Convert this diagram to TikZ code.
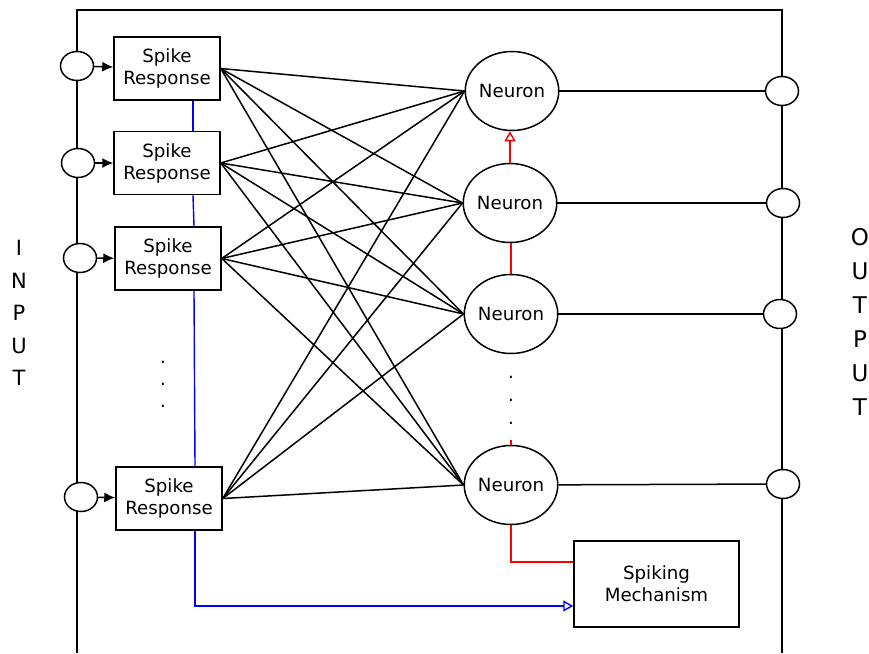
\documentclass[tikz,border=0pt]{standalone}
\usepackage{fontspec}
\setmainfont{DejaVu Sans}
\usetikzlibrary{shapes.geometric,arrows.meta}
\begin{document}
\begin{tikzpicture}[x=1pt,y=-1pt,line width=1.5pt,
  port/.style={draw,fill=white,ellipse,minimum width=33pt,minimum height=29pt,inner sep=0pt},
  resp/.style={draw,rectangle,minimum width=106pt,minimum height=63pt,inner sep=0pt,align=center,
    font=\fontsize{18.2}{22}\selectfont},
  neuron/.style={draw,ellipse,minimum width=89pt,minimum height=79pt,inner sep=0pt,
    font=\fontsize{18.2}{22}\selectfont},
  syn/.style={line width=1.5pt},
  feed/.style={-{Latex[length=11pt,width=10pt]}},
  bluewire/.style={blue,line width=1.4pt},
  redwire/.style={red,line width=1.4pt},
  opentip/.style={-{Triangle[open,length=10pt,width=11pt]}},
  vdots/.style={font=\fontsize{18.2}{22}\selectfont},
  side/.style={inner sep=0pt,align=center}]
\useasboundingbox (0,0) rectangle (869,653);
\path[fill=white] (0,0) rectangle (869,653);

% outer frame, open at the bottom
\draw (77,653) -- (77,10) -- (782,10) -- (782,653);

% input ports
\node[port] (i1) at (77,66) {};
\node[port] (i2) at (78,163) {};
\node[port] (i3) at (80,258) {};
\node[port] (i4) at (81,497) {};

% spike response blocks
\node[resp] (r1) at (167,68.5) {Spike\\Response};
\node[resp] (r2) at (167,163) {Spike\\Response};
\node[resp] (r3) at (168,258.5) {Spike\\Response};
\node[resp] (r4) at (169,498.5) {Spike\\Response};

% neurons
\node[neuron] (n1) at (512,91) {Neuron};
\node[neuron] (n2) at (510,203) {Neuron};
\node[neuron] (n3) at (511,314) {Neuron};
\node[neuron] (n4) at (511,485) {Neuron};

% output ports
\node[port] (o1) at (782,91) {};
\node[port] (o2) at (783,203) {};
\node[port] (o3) at (780,314) {};
\node[port] (o4) at (783,484) {};

% spiking mechanism
\node[draw,rectangle,minimum width=165pt,minimum height=86pt,inner sep=0pt,align=center,
  font=\fontsize{18.2}{22}\selectfont] (sm) at (656.5,584) {Spiking\\Mechanism};

% inputs into response blocks
\foreach \k in {1,2,3,4} \draw[feed] (i\k) -- (r\k);

% full connectivity from responses to neurons
\foreach \a in {1,2,3,4}
  \foreach \b in {1,2,3,4}
    \draw[syn] (r\a.east) -- (n\b.west);

% neuron outputs
\foreach \k in {1,2,3,4} \draw (n\k) -- (o\k);

% blue chain through the response blocks
\coordinate (bc) at (195,606);
\draw[bluewire] (r1.south -| 193,0) -- (r2.north -| 193,0);
\draw[bluewire] (r2.south -| 193,0) -- (r3.north -| 194,0);
\draw[bluewire] (r3.south -| 194,0) -- (r4.north -| 195,0);
\draw[bluewire,opentip] (r4.south -| bc) -- (bc) -- (bc -| sm.west);

% red chain through the neurons
\coordinate (rt) at (511,440);
\coordinate (rc) at (511,562);
\draw[redwire,opentip] (n2.north) -- (n2.north |- n1.south);
\draw[redwire] (n3.north) -- (n3.north |- n2.south);
\draw[redwire] (rt) -- (n4.north);
\draw[redwire] (n4.south) -- (rc) -- (rc -| sm.west);

% ellipsis dots
\node[vdots] (d1) at (163,362) {.};
\node[vdots] (d2) at (163,384) {.};
\node[vdots] (d3) at (163,406) {.};
\node[vdots] (e1) at (511,377) {.};
\node[vdots] (e2) at (511,400) {.};
\node[vdots] (e3) at (511,423) {.};

% side labels, letters stacked
\node[side,font=\fontsize{21}{32.5}\selectfont] (inlab) at (19,313) {I\\N\\P\\U\\T};
\node[side,font=\fontsize{23}{34}\selectfont] (outlab) at (860,322) {O\\U\\T\\P\\U\\T};
\end{tikzpicture}
\end{document}
